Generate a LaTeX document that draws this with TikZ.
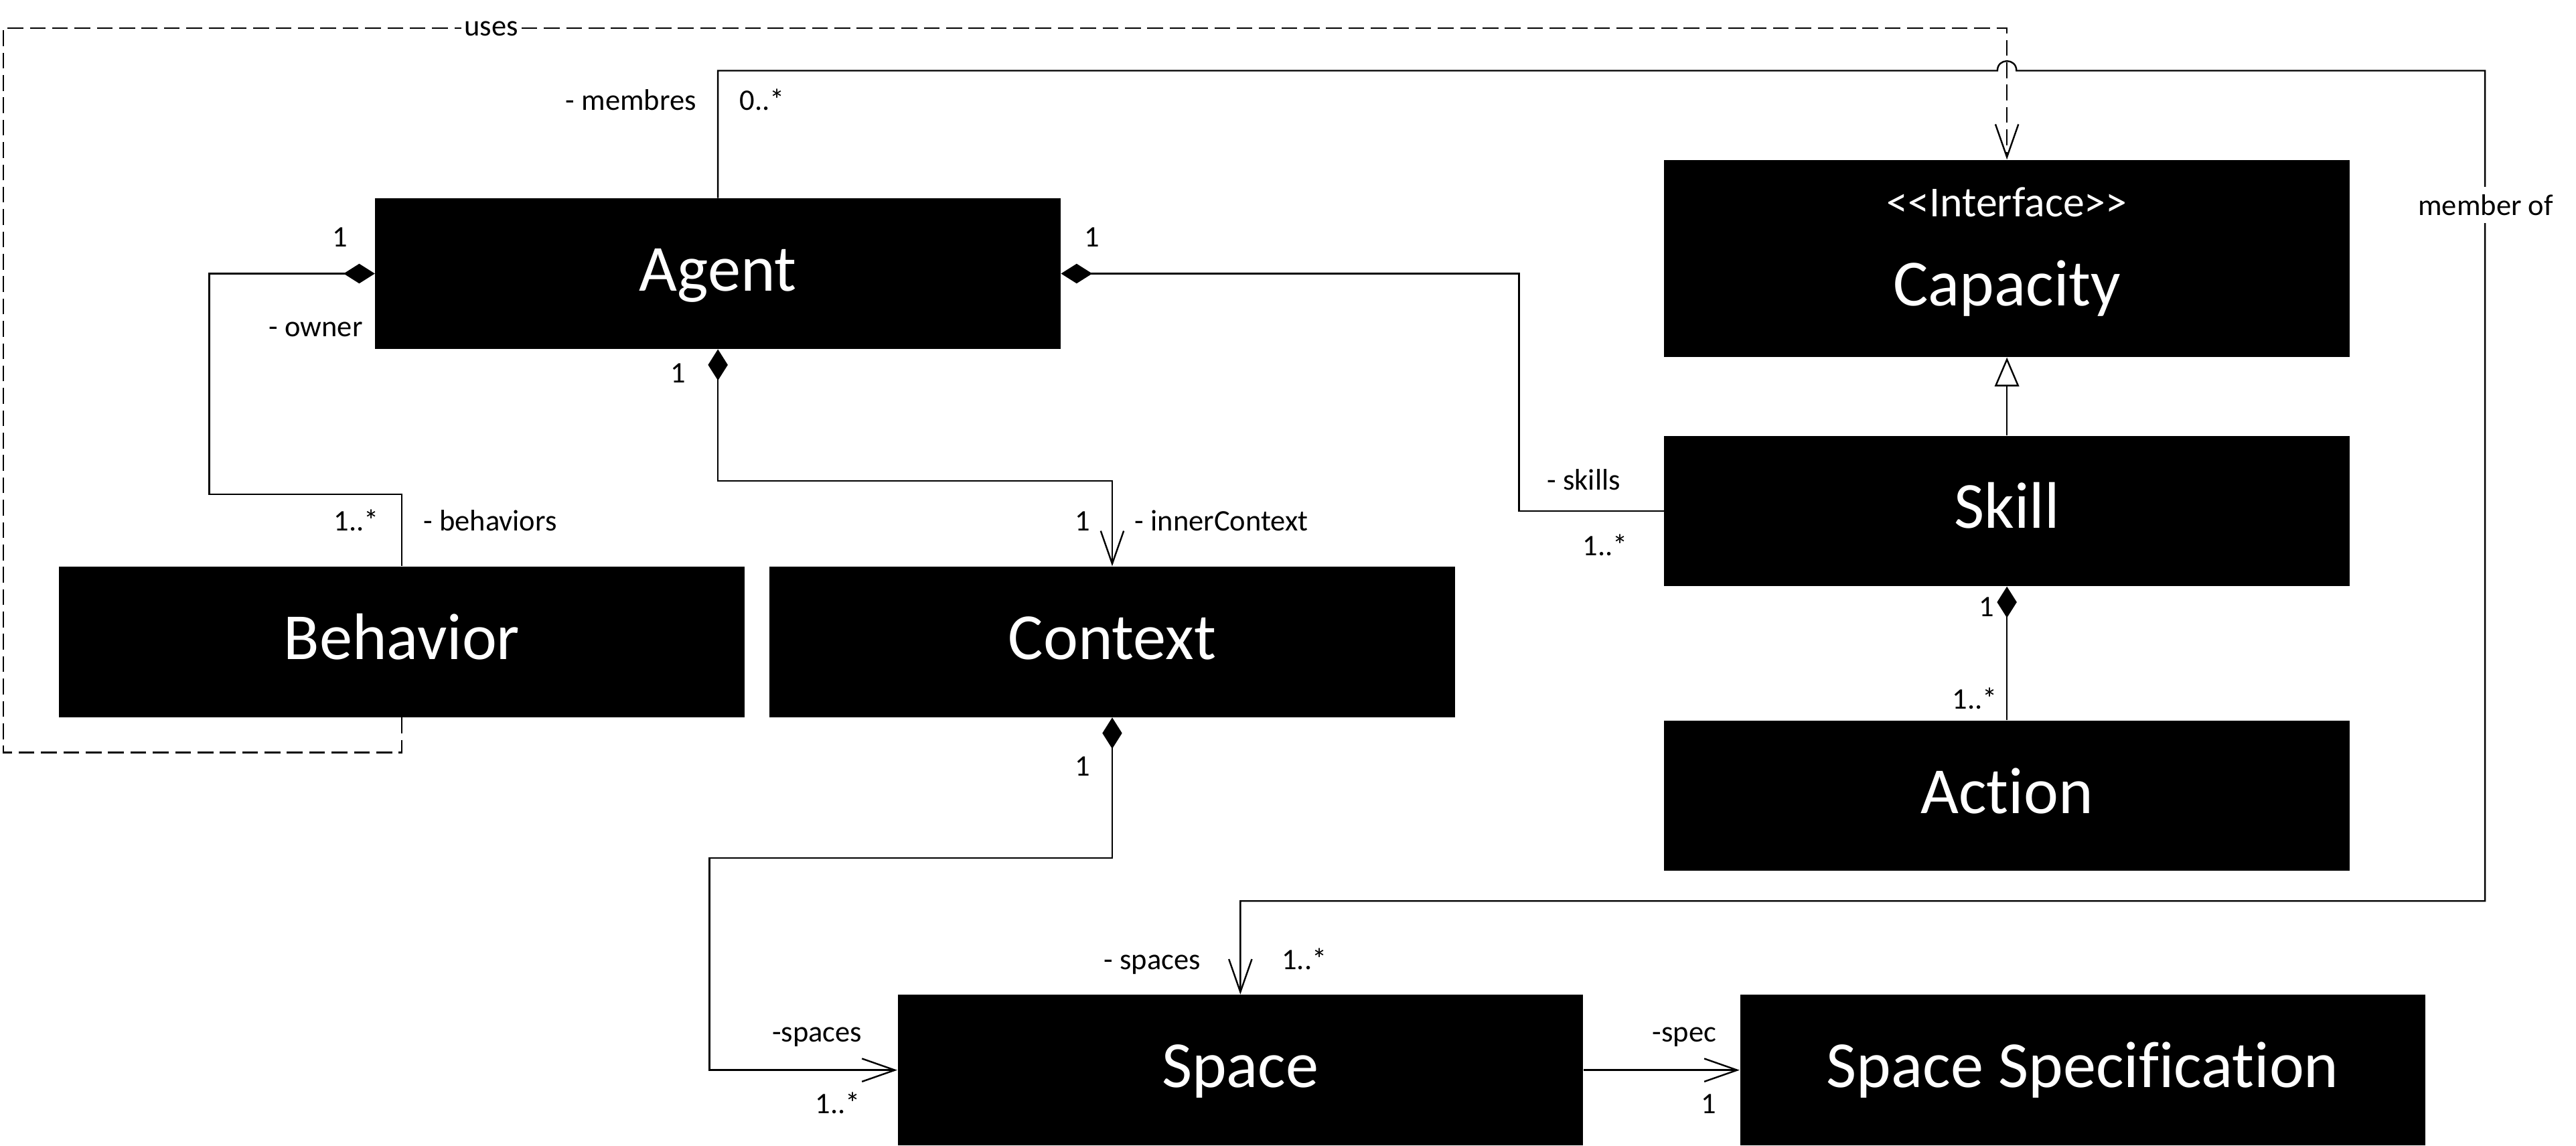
\documentclass[tikz,border=0pt]{standalone}
\usepackage{fontspec}
\newfontfamily\cali{Carlito}[Ligatures=NoCommon]
\usetikzlibrary{arrows.meta}
\tikzset{
  classbox/.style={fill=black, draw=none, inner sep=0pt, minimum width=10.425cm, minimum height=2.2875cm, text=white, font=\cali\fontsize{28.5}{34}\selectfont, text height=15pt, text depth=0pt},
  boxname/.style={text=white, inner sep=0pt, anchor=base, font=\cali\fontsize{28.5}{34}\selectfont},
  stereo/.style={text=white, inner sep=0pt, anchor=base, font=\cali\fontsize{18.5}{22}\selectfont},
  lbl/.style={inner sep=0pt, font=\cali\fontsize{12.9}{15}\selectfont},
  cutlbl/.style={lbl, fill=white, inner xsep=0.04cm, inner ysep=0.12cm},
  conn/.style={draw=black, line width=0.7pt},
  comp/.style={conn, {Diamond[length=0.475cm,width=0.3cm]}-},
  compnav/.style={conn, {Diamond[length=0.475cm,width=0.3cm]}-{Straight Barb[length=0.5cm,width=0.35cm]}},
  nav/.style={conn, -{Straight Barb[length=0.5cm,width=0.35cm]}},
  dep/.style={conn, dash pattern=on 0.24cm off 0.1cm, -{Straight Barb[length=0.5cm,width=0.35cm]}},
  realize/.style={conn, -{Triangle[open, length=0.44cm, width=0.37cm]}}
}
\begin{document}
\begin{tikzpicture}[x=0.025cm, y=-0.025cm]
\useasboundingbox (0,0) rectangle (1568,697);

% classes
\node[classbox] (agent) at (437,166.5) {Agent};
\node[classbox, minimum height=2.995cm] (capacity) at (1221.6,157.3) {};
\node[stereo] (capstereo) at (1221.6,132) {<<Interface>>};
\node[boxname] (capname) at (1221.6,186) {Capacity};
\node[classbox] (skill) at (1221.6,310.9) {Skill};
\node[classbox] (action) at (1221.6,484.3) {Action};
\node[classbox] (behavior) at (244.5,390.6) {Behavior};
\node[classbox] (context) at (677,390.6) {Context};
\node[classbox] (space) at (755,651.2) {Space};
\node[classbox] (spacespec) at (1267.7,651.2) {Space Specification};

% bend points
\coordinate (ab1) at (127.4,300.8);
\coordinate (ac1) at (437,292.7);
\coordinate (as1) at (924.6,310.9);
\coordinate (hopL) at (1215.8,43);
\coordinate (hopc1) at (1215.8,35.2);
\coordinate (hopc2) at (1227.4,35.2);
\coordinate (hopR) at (1227.4,43);
\coordinate (m1) at (1512.6,43);
\coordinate (m2) at (1512.6,548.3);
\coordinate (u1) at (2,458);
\coordinate (u2) at (2,17);
\coordinate (cs1) at (431.8,522);

% connectors
\draw[comp] (agent.west) -| (ab1) -| (behavior.north);
\draw[compnav] (agent.south) -- (ac1) -| (context.north);
\draw[comp] (agent.east) -| (as1) -- (skill.west);
\draw[nav] (agent.north) |- (hopL) .. controls (hopc1) and (hopc2) .. (hopR) -- (m1) -- (m2) -| (space.north);
\draw[dep] (behavior.south) |- (u1) -- (u2) -| (capacity.north);
\draw[realize] (skill.north) -- (capacity.south);
\draw[comp] (skill.south) -- (action.north);
\draw[compnav] (context.south) |- (cs1) |- (space.west);
\draw[nav] (space.east) -- (spacespec.west);

% labels
\node[cutlbl, anchor=base] (usesl) at (299,21.7) {uses};
\node[cutlbl, anchor=base] (memberof) at (1513,131) {member of};
\node[lbl, anchor=base east] (lown1) at (212,150) {1};
\node[lbl, anchor=base east] (lowner) at (221,205) {- owner};
\node[lbl, anchor=base east] (lmembres) at (424,67) {- membres};
\node[lbl, anchor=base west] (lmemmult) at (450,67) {0..*};
\node[lbl, anchor=base east] (lctx1) at (417.5,233) {1};
\node[lbl, anchor=base west] (lskill1) at (660,150) {1};
\node[lbl, anchor=base east] (lbehmult) at (231,323) {1..*};
\node[lbl, anchor=base west] (lbehaviors) at (257.5,323) {- behaviors};
\node[lbl, anchor=base east] (lctxmult) at (664,323) {1};
\node[lbl, anchor=base west] (linner) at (690.5,323) {- innerContext};
\node[lbl, anchor=base west] (lskills) at (941.5,298) {- skills};
\node[lbl, anchor=base east] (lskillmult) at (991,338) {1..*};
\node[lbl, anchor=base east] (lact1) at (1214,375) {1};
\node[lbl, anchor=base east] (lactmult) at (1216,431.4) {1..*};
\node[lbl, anchor=base east] (lsp1) at (664,472) {1};
\node[lbl, anchor=base east] (lspaces) at (525,634) {-spaces};
\node[lbl, anchor=base east] (lspmult) at (524,677.6) {1..*};
\node[lbl, anchor=base east] (lspaces2) at (731,590) {- spaces};
\node[lbl, anchor=base west] (lspmult2) at (780,590) {1..*};
\node[lbl, anchor=base west] (lspec) at (1005.5,634) {-spec};
\node[lbl, anchor=base east] (lspec1) at (1045,677.5) {1};
\end{tikzpicture}
\end{document}
